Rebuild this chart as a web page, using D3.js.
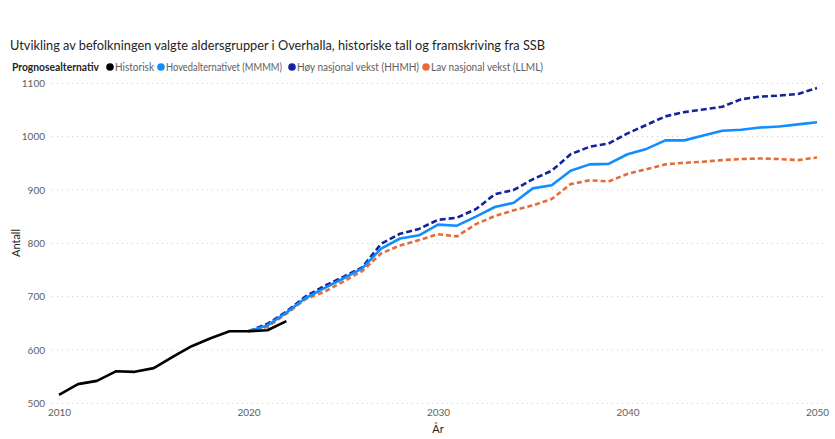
<!DOCTYPE html>
<html>
<head>
<meta charset="utf-8">
<script src="https://cdn.jsdelivr.net/npm/d3@7"></script>
<style>
	body { margin: 0; background: #fff; }
	text { font-family: "Segoe UI", Lato, "Open Sans", sans-serif; }
</style>
</head>
<body>
<div id="chart"></div>
<script>
// Data
const histYears = d3.range(2010, 2023)
const historisk = [516, 536, 542, 560, 559, 566, 587, 607, 622, 635, 635, 637, 654]
const projYears = d3.range(2020, 2051)
const hoved = [635, 646, 670, 697, 716, 734, 753, 790, 809, 815, 835, 833, 850, 868, 876, 903, 909, 936, 948, 949, 967,
	977, 993, 993, 1002, 1011, 1013, 1017, 1019, 1023, 1027]
const hoy = [635, 649, 672, 700, 720, 737, 755, 799, 818, 827, 844, 848, 864, 892, 900, 920, 936, 967, 981, 987, 1006,
	1022, 1038, 1046, 1051, 1056, 1070, 1075, 1077, 1080, 1091]
const lav = [635, 643, 668, 695, 709, 728, 748, 781, 796, 806, 817, 813, 836, 851, 862, 871, 883, 911, 918, 916, 930,
	939, 948, 951, 953, 956, 958, 959, 958, 956, 961]
const yTicks = [500, 600, 700, 800, 900, 1000, 1100]
const xTicks = [2010, 2020, 2030, 2040, 2050]

const series = [
	{ name: "Historisk", x: histYears, y: historisk, color: "#000000", dash: null },
	{ name: "Hovedalternativet (MMMM)", x: projYears, y: hoved, color: "#118DFF", dash: null },
	{ name: "Høy nasjonal vekst (HHMH)", x: projYears, y: hoy, color: "#12239E", dash: "6,3" },
	{ name: "Lav nasjonal vekst (LLML)", x: projYears, y: lav, color: "#E66C37", dash: "5,3" }
]

const width = 835, height = 439

const svg = d3.select("#chart").append("svg")
	.attr("width", width)
	.attr("height", height)

const x = d3.scaleLinear().domain([2010, 2050]).range([59, 817])
const y = d3.scaleLinear().domain([500, 1100]).range([403.3, 83.3])

// Title
svg.append("text")
	.attr("x", 10).attr("y", 50)
	.attr("textLength", 535)
	.attr("lengthAdjust", "spacingAndGlyphs")
	.style("font-size", "14px")
	.style("fill", "#252423")
	.text("Utvikling av befolkningen valgte aldersgrupper i Overhalla, historiske tall og framskriving fra SSB")

// Legend (x start and width of each label)
const legendPos = [[115, 39], [166, 116], [297, 122], [431, 112]]
const legend = svg.append("g").attr("transform", "translate(0,71)")
legend.append("text")
	.attr("x", 12)
	.attr("textLength", 87).attr("lengthAdjust", "spacingAndGlyphs")
	.style("font-size", "11px").style("font-weight", "bold").style("fill", "#252423")
	.text("Prognosealternativ")
series.forEach((s, i) => {
	const [lx, lw] = legendPos[i]
	legend.append("circle").attr("cx", lx - 5).attr("cy", -4).attr("r", 3.8).attr("fill", s.color)
	legend.append("text").attr("x", lx)
		.attr("textLength", lw).attr("lengthAdjust", "spacingAndGlyphs")
		.style("font-size", "11px").style("fill", "#605E5C")
		.text(s.name)
})

// Gridlines
svg.append("g").selectAll("line")
	.data(yTicks)
	.enter().append("line")
	.attr("x1", 52).attr("x2", 823)
	.attr("y1", d => y(d)).attr("y2", d => y(d))
	.attr("stroke", "#C8C6C4")
	.attr("stroke-width", 1)
	.attr("stroke-dasharray", "1,4")

// Y axis
const yAxis = svg.append("g")
	.attr("transform", "translate(45,0)")
	.call(d3.axisLeft(y).tickValues(yTicks).tickFormat(d3.format("d")).tickSize(0).tickPadding(0))
yAxis.select(".domain").remove()
yAxis.selectAll("text").style("font-size", "10px").style("fill", "#605E5C")
	.style("font-family", "\"Segoe UI\", Lato, sans-serif")

// X axis
const xAxis = svg.append("g")
	.attr("transform", "translate(0,406)")
	.call(d3.axisBottom(x).tickValues(xTicks).tickFormat(d3.format("d")).tickSize(0).tickPadding(3))
xAxis.select(".domain").remove()
xAxis.selectAll("text").style("font-size", "10px").style("fill", "#605E5C")
	.style("font-family", "\"Segoe UI\", Lato, sans-serif")

// Axis titles
svg.append("text")
	.attr("transform", "translate(20,243) rotate(-90)")
	.attr("text-anchor", "middle")
	.style("font-size", "11px").style("fill", "#252423")
	.text("Antall")
svg.append("text")
	.attr("x", 438).attr("y", 433)
	.attr("text-anchor", "middle")
	.style("font-size", "11px").style("fill", "#252423")
	.text("År")

// Lines
const line = d3.line()
	.x(d => x(d[0]))
	.y(d => y(d[1]))

svg.append("g").selectAll("path")
	.data(series.slice().reverse())
	.enter().append("path")
	.attr("d", s => line(s.x.map((yr, i) => [yr, s.y[i]])))
	.attr("fill", "none")
	.attr("stroke", s => s.color)
	.attr("stroke-width", 2.6)
	.attr("stroke-dasharray", s => s.dash)
	.attr("stroke-linejoin", "round")
</script>
</body>
</html>
